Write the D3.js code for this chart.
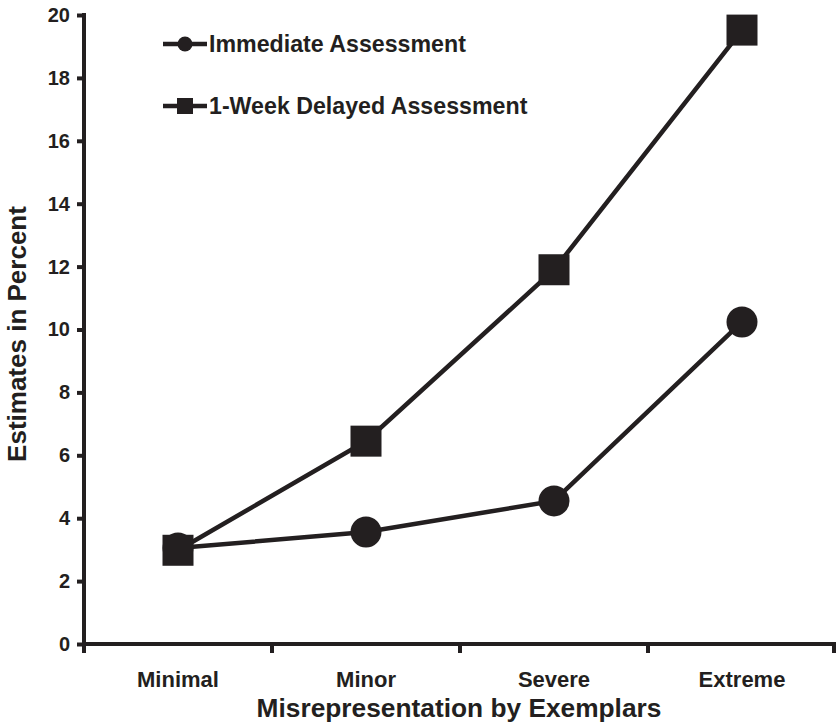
<!DOCTYPE html>
<html>
<head>
<meta charset="utf-8">
<script src="https://cdn.jsdelivr.net/npm/d3@7"></script>
<style>
  html, body { margin: 0; padding: 0; background: #fff; }
  svg { display: block; }
  text { font-family: "Liberation Sans", Arial, sans-serif; font-weight: bold; fill: #231f20; }
</style>
</head>
<body>
<svg id="chart" width="839" height="726"></svg>
<script>
const categories = ["Minimal", "Minor", "Severe", "Extreme"];
const immediate = [3.05, 3.56, 4.55, 10.24];
const delayed = [2.98, 6.45, 11.9, 19.52];
const yTicks = [0, 2, 4, 6, 8, 10, 12, 14, 16, 18, 20];
const seriesNames = ["Immediate Assessment", "1-Week Delayed Assessment"];
const xTitle = "Misrepresentation by Exemplars";
const yTitle = "Estimates in Percent";

const ink = "#231f20";
const svg = d3.select("#chart");
const mLeft = 84, mRight = 836, mTop = 15, mBottom = 644;

const x = d3.scaleBand().domain(categories).range([mLeft, mRight]).padding(0);
const y = d3.scaleLinear().domain([0, 20]).range([mBottom, mTop]);
const cx = d => x(d) + x.bandwidth() / 2;

// Y axis
const yAxis = svg.append("g").attr("transform", `translate(${mLeft},0)`)
  .call(d3.axisLeft(y).tickValues(yTicks).tickSize(7).tickPadding(7).tickFormat(d3.format("d")));
yAxis.select(".domain").attr("stroke", ink).attr("stroke-width", 4).attr("d", `M0,${mBottom + 9}V${mTop - 2}`);
yAxis.selectAll(".tick line").attr("stroke", ink).attr("stroke-width", 4);
yAxis.selectAll(".tick text").style("font-size", "20px").attr("fill", ink);

// X axis
const xAxis = svg.append("g").attr("transform", `translate(0,${mBottom})`)
  .call(d3.axisBottom(x).tickSize(0).tickPadding(27));
xAxis.select(".domain").attr("stroke", ink).attr("stroke-width", 4).attr("d", `M${mLeft - 2},0H${mRight}`);
xAxis.selectAll(".tick text").style("font-size", "22px").attr("fill", ink);
// boundary ticks
const bounds = categories.map(c => x(c)).concat([x.range()[1]]).slice(1);
xAxis.selectAll(".btick").data(bounds).enter().append("line")
  .attr("x1", d => Math.min(d, mRight - 2)).attr("x2", d => Math.min(d, mRight - 2))
  .attr("y1", 0).attr("y2", 9).attr("stroke", ink).attr("stroke-width", 4);

// Titles
svg.append("text").attr("x", (mLeft + mRight) / 2 - 1).attr("y", 717)
  .attr("text-anchor", "middle").style("font-size", "26.3px").text(xTitle);
svg.append("text").attr("transform", `translate(26,334) rotate(-90)`)
  .attr("text-anchor", "middle").style("font-size", "26px").text(yTitle);

// Lines
const line = d3.line().x((d, i) => cx(categories[i])).y(d => y(d));
svg.append("path").datum(immediate).attr("d", line)
  .attr("fill", "none").attr("stroke", ink).attr("stroke-width", 4.5);
svg.append("path").datum(delayed).attr("d", line)
  .attr("fill", "none").attr("stroke", ink).attr("stroke-width", 4.5);

// Markers
svg.selectAll(".circ").data(immediate).enter().append("circle")
  .attr("cx", (d, i) => cx(categories[i])).attr("cy", d => y(d)).attr("r", 15.5).attr("fill", ink);
const sq = 31;
svg.selectAll(".sq").data(delayed).enter().append("rect")
  .attr("x", (d, i) => cx(categories[i]) - sq / 2).attr("y", d => y(d) - sq / 2)
  .attr("width", sq).attr("height", sq).attr("fill", ink);

// Legend
const leg = [{name: seriesNames[0], y: 44, shape: "circle"}, {name: seriesNames[1], y: 106, shape: "square"}];
leg.forEach(l => {
  svg.append("line").attr("x1", 163).attr("x2", 207).attr("y1", l.y).attr("y2", l.y)
    .attr("stroke", ink).attr("stroke-width", 4.5);
  if (l.shape === "circle") {
    svg.append("circle").attr("cx", 185).attr("cy", l.y).attr("r", 7.5).attr("fill", ink);
  } else {
    svg.append("rect").attr("x", 177).attr("y", l.y - 8).attr("width", 16).attr("height", 16).attr("fill", ink);
  }
  svg.append("text").attr("x", 209).attr("y", l.y + 8).style("font-size", "23.2px").text(l.name);
});
</script>
</body>
</html>
